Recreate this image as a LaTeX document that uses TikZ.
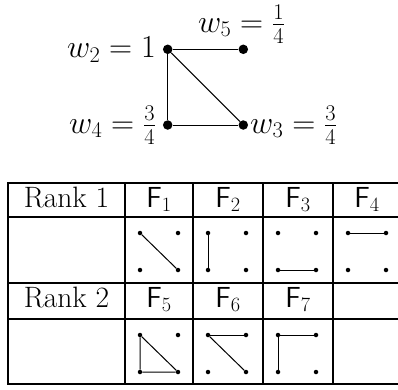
\RequirePackage{fix-cm}
\documentclass[tikz,border=0pt]{standalone}
\newcommand\dotcell[3]{%
  \node[smalldot] (#1tl) at ({#2+15},{#3+16}) {};
  \node[smalldot] (#1tr) at ({#2+53},{#3+16}) {};
  \node[smalldot] (#1bl) at ({#2+15},{#3+53}) {};
  \node[smalldot] (#1br) at ({#2+53},{#3+53}) {};
}
\begin{document}
\begin{tikzpicture}[x=1pt,y=-1pt,
  bigdot/.style={circle,fill=black,inner sep=0pt,minimum size=9.5pt},
  smalldot/.style={circle,fill=black,inner sep=0pt,minimum size=4.5pt},
  gedge/.style={line width=1pt},
  tabrule/.style={line width=2.7pt},
  lbl/.style={font=\fontsize{29}{36}\selectfont,inner sep=0pt},
  wlbl/.style={font=\fontsize{32}{38}\selectfont,inner sep=0pt},
  rlbl/.style={font=\fontsize{29.5}{36}\selectfont,inner sep=0pt}
]
\useasboundingbox (0,0) rectangle (398,389);
\clip (0,0) rectangle (398,389);

% main graph
\node[bigdot] (v2) at (167.7,49.3) {};
\node[bigdot] (v5) at (243.3,49.3) {};
\node[bigdot] (v4) at (167.7,125) {};
\node[bigdot] (v3) at (243.3,125) {};
\draw[gedge] (v2) -- (v5);
\draw[gedge] (v2) -- (v4);
\draw[gedge] (v4) -- (v3);
\draw[gedge] (v2) -- (v3);
\node[wlbl,anchor=east] (l2) at (156,49.3) {$w_2=1$};
\node[wlbl,anchor=east] (l4) at (156,125) {$w_4=\frac{3}{4}$};
\node[wlbl,anchor=west] (l3) at (250,125) {$w_3=\frac{3}{4}$};
\node[wlbl] (l5) at (241.5,24) {$w_5=\frac{1}{4}$};

% table
\draw[tabrule] (8,183) rectangle (401,384);
\foreach \yy in {217,283,319} \draw[tabrule] (8,\yy) -- (401,\yy);
\foreach \xx in {125,193,263,333} \draw[tabrule] (\xx,183) -- (\xx,384);

\node[rlbl,anchor=base] (r1) at (66.5,207) {Rank 1};
\node[rlbl,anchor=base] (r2) at (66.5,307) {Rank 2};
\node[lbl,anchor=base] (f1) at (159,207) {$\mathsf{F}_1$};
\node[lbl,anchor=base] (f2) at (228,207) {$\mathsf{F}_2$};
\node[lbl,anchor=base] (f3) at (298,207) {$\mathsf{F}_3$};
\node[lbl,anchor=base] (f4) at (367,207) {$\mathsf{F}_4$};
\node[lbl,anchor=base] (f5) at (159,307) {$\mathsf{F}_5$};
\node[lbl,anchor=base] (f6) at (228,307) {$\mathsf{F}_6$};
\node[lbl,anchor=base] (f7) at (298,307) {$\mathsf{F}_7$};

\dotcell{a}{125}{217}
\dotcell{b}{193}{217}
\dotcell{c}{263}{217}
\dotcell{d}{333}{217}
\dotcell{e}{125}{319}
\dotcell{f}{193}{319}
\dotcell{g}{263}{319}
\draw[gedge] (atl) -- (abr);
\draw[gedge] (btl) -- (bbl);
\draw[gedge] (cbl) -- (cbr);
\draw[gedge] (dtl) -- (dtr);
\draw[gedge] (etl) -- (ebl) -- (ebr) -- (etl);
\draw[gedge] (ftl) -- (ftr);
\draw[gedge] (ftl) -- (fbr);
\draw[gedge] (gtl) -- (gtr);
\draw[gedge] (gtl) -- (gbl);
\end{tikzpicture}
\end{document}
